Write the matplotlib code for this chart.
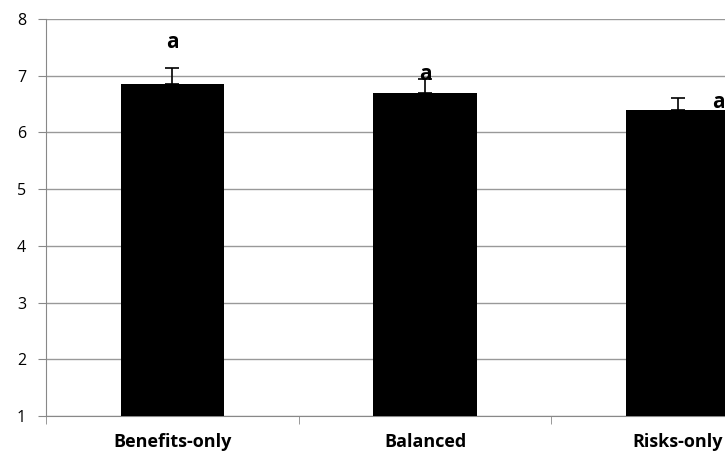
import matplotlib.pyplot as plt
import numpy as np

categories = ["Benefits-only", "Balanced", "Risks-only"]
means = [6.86, 6.70, 6.39]
errors = [0.27, 0.25, 0.22]
letters = ["a", "a", "a"]
letter_x = [0.0, 1.0, 2.16]
letter_y = [7.58, 7.03, 6.52]

plt.rcParams["font.family"] = ["Open Sans", "DejaVu Sans"]

fig = plt.figure(figsize=(7.25, 4.58), dpi=100)
# axes run past the right edge so the last category is cut off
ax = fig.add_axes([46 / 725, 42 / 458, 758 / 725, 397 / 458])

x = np.arange(len(categories))
ax.bar(x, np.array(means) - 1, bottom=1, width=0.41, color="black", zorder=3)
ax.errorbar(x, means, yerr=[np.zeros(len(errors)), errors], fmt="none",
            ecolor="black", elinewidth=1.2, capsize=5, capthick=1.2, zorder=4)

for lx, ly, t in zip(letter_x, letter_y, letters):
    ax.text(lx, ly, t, ha="center", va="center", fontsize=15,
            fontweight="bold", zorder=5)

ax.set_xlim(-0.5, 2.5)
ax.set_ylim(1, 8)
ax.set_yticks(range(1, 9))
ax.tick_params(axis="y", length=6, color="#888888", labelsize=11.5, pad=15)
for lab in ax.get_yticklabels():
    lab.set_horizontalalignment("left")
ax.yaxis.grid(True, color="#999999", linewidth=1, zorder=0)

ax.set_xticks(x)
ax.set_xticklabels(categories, fontweight="bold", fontsize=13)
ax.set_xticks([-0.5, 0.5, 1.5, 2.5], minor=True)
ax.tick_params(axis="x", which="major", length=0, pad=12)
ax.tick_params(axis="x", which="minor", length=6, color="#888888")

for side in ["top", "right"]:
    ax.spines[side].set_visible(False)
for side in ["left", "bottom"]:
    ax.spines[side].set_color("#888888")

fig.savefig("out.png", dpi=100)
